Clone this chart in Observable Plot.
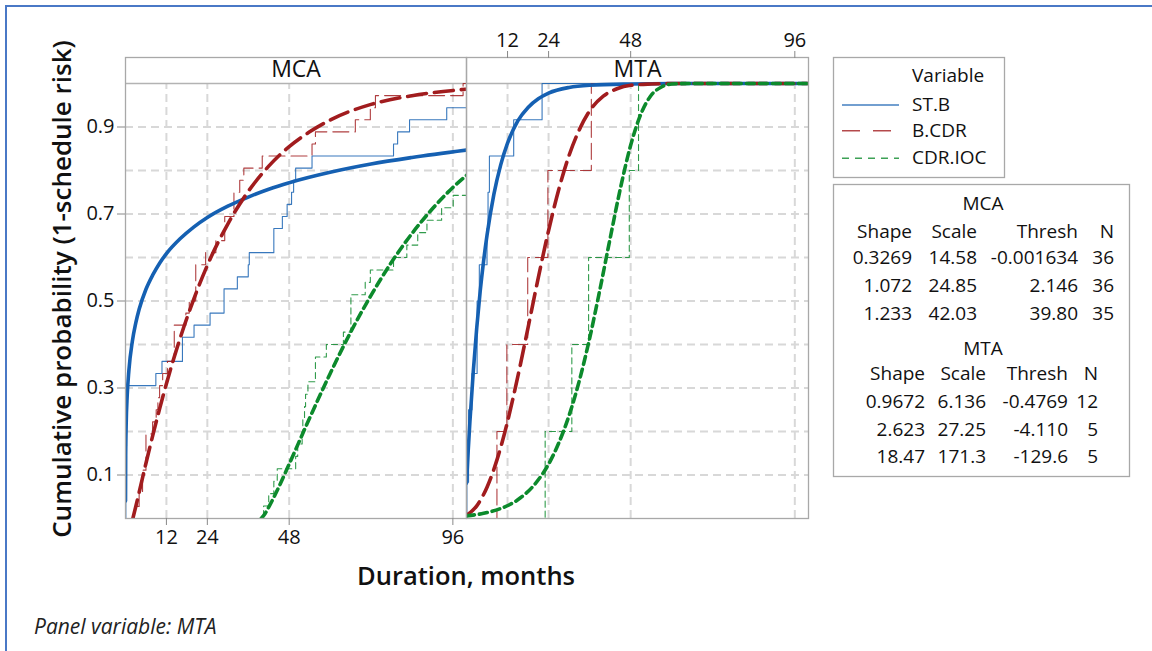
<!DOCTYPE html>
<html><head><meta charset="utf-8">
<script src="https://cdn.jsdelivr.net/npm/d3@7"></script>
<script src="https://cdn.jsdelivr.net/npm/@observablehq/plot@0.6"></script>
<style>
body{margin:0;background:#fff;}
#wrap{position:relative;width:1152px;height:651px;overflow:hidden;background:#fff;font-family:"Open Sans",sans-serif;}
#wrap svg{position:absolute;}
</style></head><body><div id="wrap"></div>
<script>
// ---------- data ----------
const panels = ["MCA", "MTA"];
const seriesNames = ["ST.B", "B.CDR", "CDR.IOC"];
const seriesColors = ["#1560b2", "#a11c1e", "#0c8a2c"];
const xTicks = [12, 24, 48, 96];
const yTicks = [0.1, 0.3, 0.5, 0.7, 0.9];
const yGrid = [0.1, 0.2, 0.3, 0.4, 0.5, 0.6, 0.7, 0.8, 0.9];

// fitted 3-parameter Weibull curves: [duration, cumulative probability]
const mcaFitSTB = [[0,0.04],[0.05,0.145],[0.2,0.218],[0.5,0.283],[1,0.341],[2,0.407],[3,0.449],[4,0.481],[6,0.527],[8,0.56],[10,0.587],[12,0.609],[16,0.643],[20,0.67],[24,0.692],[30,0.718],[36,0.739],[42,0.757],[48,0.772],[60,0.796],[72,0.815],[84,0.83],[100,0.847]];
const mcaFitBCDR = [[2.15,0],[3,0.027],[4,0.06],[6,0.127],[8,0.191],[10,0.252],[12,0.31],[16,0.414],[20,0.504],[24,0.582],[30,0.677],[36,0.752],[42,0.81],[48,0.855],[54,0.889],[60,0.916],[72,0.952],[84,0.972],[100,0.987]];
const mcaFitCDRIOC = [[39.8,0],[41,0.012],[42,0.026],[45,0.073],[48,0.125],[54,0.231],[60,0.333],[66,0.428],[72,0.513],[78,0.589],[84,0.655],[90,0.712],[96,0.761],[100,0.789]];
const mtaFitSTB = [[0,0.081],[0.5,0.156],[1,0.223],[2,0.34],[3,0.439],[4,0.522],[5,0.592],[6,0.651],[8,0.745],[10,0.813],[12,0.863],[15,0.914],[18,0.945],[21,0.965],[24,0.978],[30,0.991],[36,0.996],[48,0.999],[60,1],[100,1]];
const mtaFitBCDR = [[0,0.007],[3,0.029],[6,0.072],[9,0.137],[12,0.223],[15,0.326],[18,0.439],[21,0.554],[24,0.662],[27,0.757],[30,0.835],[33,0.894],[36,0.937],[40,0.971],[44,0.988],[48,0.996],[54,0.999],[60,1],[100,1]];
const mtaFitCDRIOC = [[0,0.006],[5,0.012],[10,0.023],[15,0.043],[20,0.079],[24,0.125],[27,0.174],[30,0.237],[33,0.317],[36,0.414],[39,0.526],[42,0.644],[45,0.759],[48,0.858],[51,0.93],[54,0.973],[57,0.992],[60,0.999],[65,1],[100,1]];

// observed durations (empirical CDF), values beyond 100 months not shown
const mcaObsSTB = [0.1,0.1,0.1,0.2,0.2,0.2,0.3,0.3,0.4,0.4,0.4,8.9,10.7,16.7,16.7,20.1,24.8,28.9,28.9,32.8,36.0,36.3,43.5,43.5,46.0,47.4,48.7,49.3,49.9,54.7,78.6,79.8,83.3,94.2];
const mcaObsBCDR = [2.6,4.0,5.0,5.0,6.0,6.0,6.0,7.95,9.0,9.5,10.0,10.9,12.3,14.3,14.3,14.3,17.7,18.7,20.6,20.6,20.6,23.5,26.5,29.1,29.1,31.8,31.8,33.5,34.7,40.1,54.7,55.7,67.4,71.8,73.3,99.0];
const mcaObsCDRIOC = [40.5,42.0,43.5,44.5,49.9,50.5,51.8,52.0,52.5,52.8,53.5,55.7,55.7,58.9,63.9,66.1,66.1,66.1,70.3,71.8,78.6,82.5,85.7,88.4,92.7,96.1];
const mtaObsSTB = [0.1,0.6,0.6,1.6,3.1,3.1,3.75,6.0,6.3,6.7,13.8,22.1];
const mtaObsBCDR = [8.9,11.8,17.9,23.8,36.5];
const mtaObsCDRIOC = [23.0,30.8,35.7,47.6,50.3];

// table of fitted parameters
const tableHead = ["Shape", "Scale", "Thresh", "N"];
const mcaShape = ["0.3269", "1.072", "1.233"];
const mcaScale = ["14.58", "24.85", "42.03"];
const mcaThresh = ["-0.001634", "2.146", "39.80"];
const mcaN = [36, 36, 35];
const mtaShape = ["0.9672", "2.623", "18.47"];
const mtaScale = ["6.136", "27.25", "171.3"];
const mtaThresh = ["-0.4769", "-4.110", "-129.6"];
const mtaN = [12, 5, 5];

const yTitle = "Cumulative probability (1-schedule risk)";
const xTitle = "Duration, months";
const caption = "Panel variable: MTA";
const legendTitle = "Variable";

// ---------- drawing ----------
const FONT = "'Open Sans', sans-serif";
const xDomain = [0, 100];
const yDomain = [0, 1.0598];
const thickDash = [null, "19,8", "8,5"];
const thinDash = [null, "16,6", "6,4"];

function ecdf(values, n) {
  const pts = [{x: 0, y: 0}];
  values.forEach((v, i) => pts.push({x: v, y: (i + 1) / n}));
  pts.push({x: xDomain[1], y: values.length / n});
  return pts;
}

function panelPlot(name, fits, obs, ns, opts) {
  const marks = [
    Plot.ruleY(yGrid, {stroke: "#d8d8d8", strokeWidth: 2, strokeDasharray: "8,5"}),
    Plot.ruleX(xTicks, {y1: 0, y2: 1, stroke: "#d8d8d8", strokeWidth: 2, strokeDasharray: "8,5"}),
    Plot.ruleY([1], {stroke: "#b3b3b3", strokeWidth: 1.3})
  ];
  obs.forEach((o, i) => marks.push(Plot.line(ecdf(o, ns[i]), {
    x: "x", y: "y", curve: "step-after", stroke: seriesColors[i], strokeWidth: 1.1,
    strokeOpacity: 0.85, strokeDasharray: thinDash[i], clip: true
  })));
  fits.forEach((f, i) => marks.push(Plot.line(f, {
    x: d => d[0], y: d => d[1], curve: "monotone-x", stroke: seriesColors[i], strokeWidth: 3.6,
    strokeDasharray: thickDash[i], clip: true
  })));
  marks.push(Plot.frame({stroke: "#a8a8a8", strokeWidth: 1.3}));
  marks.push(Plot.text([name], {frameAnchor: "top", lineAnchor: "middle", dy: 12, fontSize: 23, fill: "#111"}));
  if (opts.yAxis) marks.push(Plot.axisY(yTicks, {anchor: "left", tickSize: 8, tickPadding: 3, label: null, fontSize: 20, stroke: "#888", fill: "#111"}));
  marks.push(Plot.axisX(xTicks, {anchor: opts.xAnchor, tickSize: 7, tickPadding: 4, label: null, fontSize: 20, stroke: "#888", fill: "#111"}));
  return Plot.plot({
    width: opts.width, height: 600,
    marginLeft: opts.marginLeft, marginRight: 4, marginTop: 57, marginBottom: 82,
    x: {domain: xDomain}, y: {domain: yDomain, axis: opts.yAxis ? undefined : null},
    style: {fontFamily: FONT, fontSize: "20px", color: "#111", background: "transparent", overflow: "visible"},
    marks
  });
}

const wrap = document.getElementById("wrap");
const p1 = panelPlot(panels[0], [mcaFitSTB, mcaFitBCDR, mcaFitCDRIOC], [mcaObsSTB, mcaObsBCDR, mcaObsCDRIOC], mcaN,
  {yAxis: true, xAnchor: "bottom", width: 470, marginLeft: 125});
p1.style.left = "0px"; p1.style.top = "0px";
wrap.appendChild(p1);
const p2 = panelPlot(panels[1], [mtaFitSTB, mtaFitBCDR, mtaFitCDRIOC], [mtaObsSTB, mtaObsBCDR, mtaObsCDRIOC], mtaN,
  {yAxis: false, xAnchor: "top", width: 350, marginLeft: 4});
p2.style.left = "462px"; p2.style.top = "0px";
wrap.appendChild(p2);

// overlay: frame, titles, legend, table
const svg = d3.select(wrap).append("svg").attr("width", 1152).attr("height", 651)
  .style("left", "0px").style("top", "0px").style("font-family", FONT).style("pointer-events", "none");
svg.append("line").attr("x1", 5).attr("x2", 1152).attr("y1", 6).attr("y2", 6).attr("stroke", "#4a78c6").attr("stroke-width", 2);
svg.append("line").attr("x1", 6).attr("x2", 6).attr("y1", 5).attr("y2", 651).attr("stroke", "#4a78c6").attr("stroke-width", 2);

svg.append("text").attr("transform", "translate(71,289) rotate(-90)").attr("text-anchor", "middle")
  .attr("font-size", 26).attr("font-weight", 600).attr("fill", "#111").text(yTitle);
svg.append("text").attr("x", 466).attr("y", 585).attr("text-anchor", "middle")
  .attr("font-size", 25.5).attr("font-weight", 600).attr("fill", "#111").text(xTitle);
svg.append("text").attr("x", 34).attr("y", 634).attr("font-size", 21).attr("font-style", "italic")
  .attr("fill", "#222").text(caption);

// legend
svg.append("rect").attr("x", 833.5).attr("y", 57.5).attr("width", 171).attr("height", 120)
  .attr("fill", "#fff").attr("stroke", "#a8a8a8").attr("stroke-width", 1.3);
svg.append("text").attr("x", 912).attr("y", 81.5).attr("font-size", 19).attr("fill", "#111").text(legendTitle);
const legY = [105, 130.7, 158.3];
const legBase = [110.7, 136.7, 164];
const legDash = [null, "18,13", "7,6"];
seriesNames.forEach((s, i) => {
  svg.append("line").attr("x1", 842).attr("x2", 899).attr("y1", legY[i]).attr("y2", legY[i])
    .attr("stroke", seriesColors[i]).attr("stroke-width", 1.5).attr("stroke-opacity", 0.8)
    .attr("stroke-dasharray", legDash[i]);
  svg.append("text").attr("x", 912).attr("y", legBase[i]).attr("font-size", 19).attr("fill", "#111").text(s);
});

// parameter table
svg.append("rect").attr("x", 833.5).attr("y", 184.5).attr("width", 296).attr("height", 292)
  .attr("fill", "#fff").attr("stroke", "#a8a8a8").attr("stroke-width", 1.3);
function block(title, titleY, headY, rowYs, cols, colX) {
  svg.append("text").attr("x", 983).attr("y", titleY).attr("text-anchor", "middle").attr("font-size", 19).attr("fill", "#111").text(title);
  tableHead.forEach((h, j) => svg.append("text").attr("x", colX[j]).attr("y", headY).attr("text-anchor", "end")
    .attr("font-size", 19).attr("fill", "#111").text(h));
  rowYs.forEach((yy, r) => cols.forEach((c, j) => svg.append("text").attr("x", colX[j]).attr("y", yy)
    .attr("text-anchor", "end").attr("font-size", 19).attr("fill", "#111").text(c[r])));
}
block(panels[0], 210, 238, [264, 292, 320], [mcaShape, mcaScale, mcaThresh, mcaN], [912, 977, 1078, 1114]);
block(panels[1], 355, 380, [408, 436, 463], [mtaShape, mtaScale, mtaThresh, mtaN], [925, 986, 1068, 1098]);
</script></body></html>
